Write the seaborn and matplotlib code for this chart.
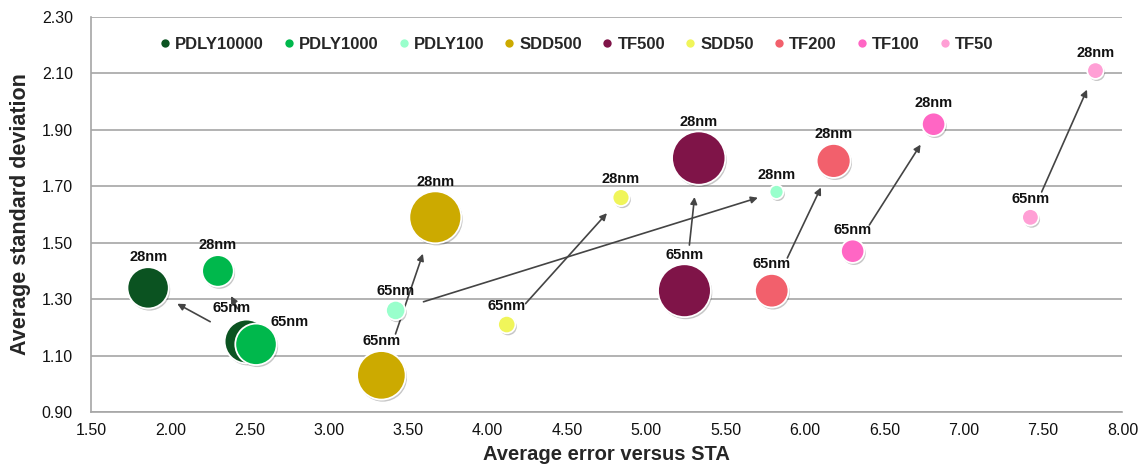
import matplotlib
matplotlib.use("Agg")
import matplotlib.pyplot as plt
import matplotlib.patheffects as pe
from matplotlib.lines import Line2D
import seaborn as sns
import numpy as np
import pandas as pd

# series, one 65nm and one 28nm point each (x = avg error vs STA, y = avg std dev)
series = ["PDLY10000", "PDLY1000", "PDLY100", "SDD500", "TF500",
          "SDD50", "TF200", "TF100", "TF50"]
x65 = [2.48, 2.54, 3.42, 3.33, 5.24, 4.12, 5.79, 6.30, 7.42]
y65 = [1.15, 1.14, 1.26, 1.03, 1.33, 1.21, 1.33, 1.47, 1.59]
x28 = [1.86, 2.30, 5.82, 3.67, 5.33, 4.84, 6.18, 6.81, 7.83]
y28 = [1.34, 1.40, 1.68, 1.59, 1.80, 1.66, 1.79, 1.92, 2.11]
# bubble weight (area)
b65 = [480, 430, 94, 590, 700, 76, 282, 137, 69]
b28 = [428, 250, 49, 676, 713, 72, 289, 137, 69]

colors = ["#0B5321", "#00B84C", "#99FFCC", "#CCAA00", "#7F1448",
          "#F0F55A", "#F2606C", "#FF66C4", "#FF9FD5"]

df = pd.DataFrame({
    "series": series * 2,
    "node": ["65nm"] * len(series) + ["28nm"] * len(series),
    "x": x65 + x28,
    "y": y65 + y28,
    "bubble": b65 + b28,
})

sns.set_theme(style="white")
plt.rcParams["font.family"] = ["Liberation Sans", "DejaVu Sans"]

fig, ax = plt.subplots(figsize=(11.43, 4.70), dpi=100)
fig.subplots_adjust(left=0.0796, right=0.982, bottom=0.1234, top=0.9638)

palette = dict(zip(series, colors))
SMAX = 800 * 2.07
sns.scatterplot(data=df, x="x", y="y", hue="series", palette=palette,
                size="bubble", sizes=(0, SMAX), size_norm=(0, 800),
                edgecolor="white", linewidth=1.3, legend=False, ax=ax, zorder=3)
ax.collections[0].set_path_effects([
    pe.SimplePatchShadow(offset=(1, -1.5), shadow_rgbFace="black", alpha=0.22),
    pe.Normal()])


def radius_pt(v):
    return np.sqrt(SMAX * v / 800) / 2


# arrows from the 65nm point towards the 28nm point
for i in range(len(series)):
    ax.annotate("", xy=(x28[i], y28[i]), xytext=(x65[i], y65[i]),
                arrowprops=dict(arrowstyle="-|>", color="#444444", lw=1.2,
                                mutation_scale=10,
                                shrinkA=radius_pt(b65[i]) + 14,
                                shrinkB=radius_pt(b28[i]) + 9),
                zorder=2)

# node labels
special = {("PDLY10000", "65nm"): (-11, 24), ("PDLY1000", "65nm"): (24, 16)}
for s, n, xv, yv, bv in zip(df["series"], df["node"], df["x"], df["y"], df["bubble"]):
    off = special.get((s, n), (0, radius_pt(bv) + 7))
    ax.annotate(n, (xv, yv), xytext=off, textcoords="offset points",
                ha="center", va="center", fontsize=10.5, fontweight="bold",
                color="#111111", zorder=4)

ax.set_xlim(1.5, 8.0)
ax.set_ylim(0.9, 2.3)
ax.set_xticks(np.arange(1.5, 8.01, 0.5))
ax.set_yticks(np.arange(0.9, 2.31, 0.2))
ax.xaxis.set_major_formatter(matplotlib.ticker.FormatStrFormatter("%.2f"))
ax.yaxis.set_major_formatter(matplotlib.ticker.FormatStrFormatter("%.2f"))
ax.tick_params(axis="both", labelsize=11.5, length=0, colors="#111111")
ax.tick_params(axis="y", pad=13)
ax.tick_params(axis="x", pad=8)
ax.grid(axis="y", color="#A6A6A6", lw=1.2)
ax.set_axisbelow(True)
for sp in ["top", "right"]:
    ax.spines[sp].set_visible(False)
for sp in ["left", "bottom"]:
    ax.spines[sp].set_color("#A6A6A6")
    ax.spines[sp].set_linewidth(1.2)

ax.set_xlabel("Average error versus STA", fontsize=14.5, fontweight="bold", labelpad=5)
ax.set_ylabel("Average standard deviation", fontsize=15.5, fontweight="bold", labelpad=8)

handles = [Line2D([], [], marker="o", ls="", markersize=6, color=c,
                  markeredgewidth=0) for c in colors]
leg = ax.legend(handles, series, loc="center", bbox_to_anchor=(0.47, 0.93),
                ncol=9, frameon=False, handletextpad=0.2, columnspacing=1.12,
                handlelength=0.8, prop={"weight": "bold", "size": 12})

fig.savefig("out.png", dpi=100)
